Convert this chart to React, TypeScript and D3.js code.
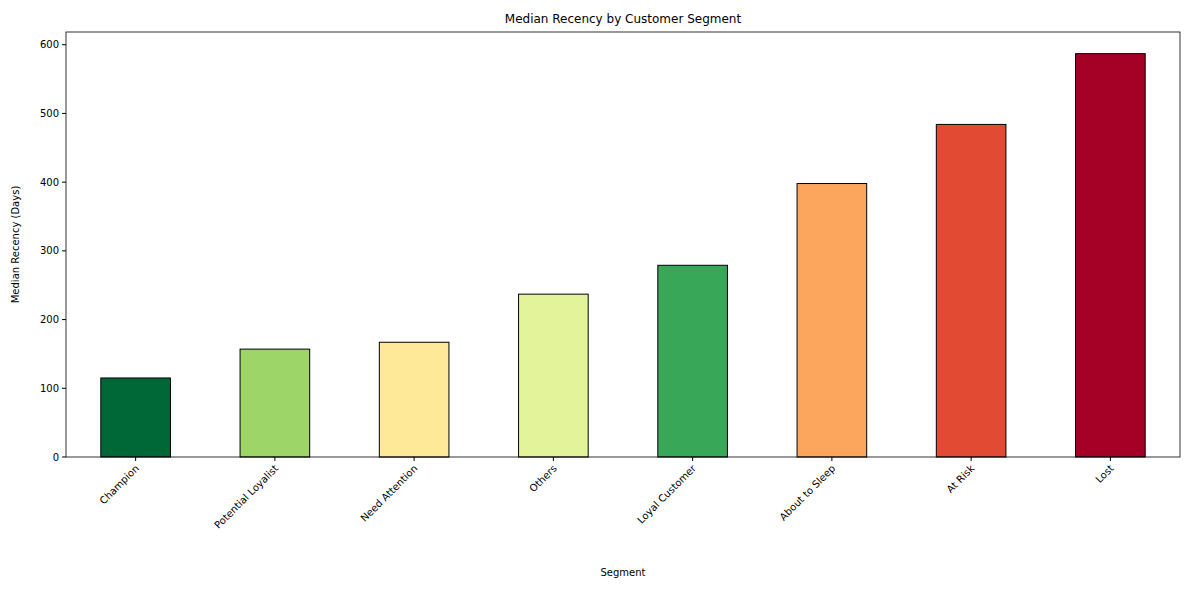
import React from "react";
import * as d3 from "d3";

const categories = ["Champion","Potential Loyalist","Need Attention","Others","Loyal Customer","About to Sleep","At Risk","Lost"];
const values = [115,157,167,237,279,398,484,587];
const colors = ["#006837","#9dd569","#fee999","#e3f399","#39a758","#fca55d","#e34a33","#a50026"];
const yTicks = [0,100,200,300,400,500,600];

export default function App() {
  const W = 1189, H = 590;
  const L = 66, R = 1180, T = 32, B = 457;
  const x = d3.scaleBand<string>().domain(categories).range([L, R]).paddingInner(0.5).paddingOuter(0.25);
  const y = d3.scaleLinear().domain([0, 618.5]).range([B, T]);
  const font = "DejaVu Sans, sans-serif";
  return (
    <svg width={W} height={H} style={{ position: "absolute", left: 0, top: 0 }} fontFamily={font}>
      <rect width={W} height={H} fill="#fff" />
      {categories.map((c, i) => (
        <rect key={c} x={x(c)} y={y(values[i])} width={x.bandwidth()} height={B - y(values[i])}
          fill={colors[i]} stroke="#000" strokeWidth={1} />
      ))}
      <rect x={L} y={T} width={R - L} height={B - T} fill="none" stroke="#000" strokeWidth={0.8} />
      {yTicks.map(t => (
        <g key={t}>
          <line x1={L - 4} x2={L} y1={y(t)} y2={y(t)} stroke="#000" />
          <text x={L - 7} y={y(t)} dy="0.35em" textAnchor="end" fontSize={10}>{t}</text>
        </g>
      ))}
      {categories.map(c => {
        const cx = x(c)! + x.bandwidth() / 2;
        return (
          <g key={c}>
            <line x1={cx} x2={cx} y1={B} y2={B + 4} stroke="#000" />
            <text transform={`translate(${cx + 4},${B + 12}) rotate(-45)`} textAnchor="end" fontSize={10}>{c}</text>
          </g>
        );
      })}
      <text x={(L + R) / 2} y={576} textAnchor="middle" fontSize={10}>Segment</text>
      <text transform={`translate(19,${(T + B) / 2}) rotate(-90)`} textAnchor="middle" fontSize={10}>Median Recency (Days)</text>
      <text x={(L + R) / 2} y={23} textAnchor="middle" fontSize={12}>Median Recency by Customer Segment</text>
    </svg>
  );
}
